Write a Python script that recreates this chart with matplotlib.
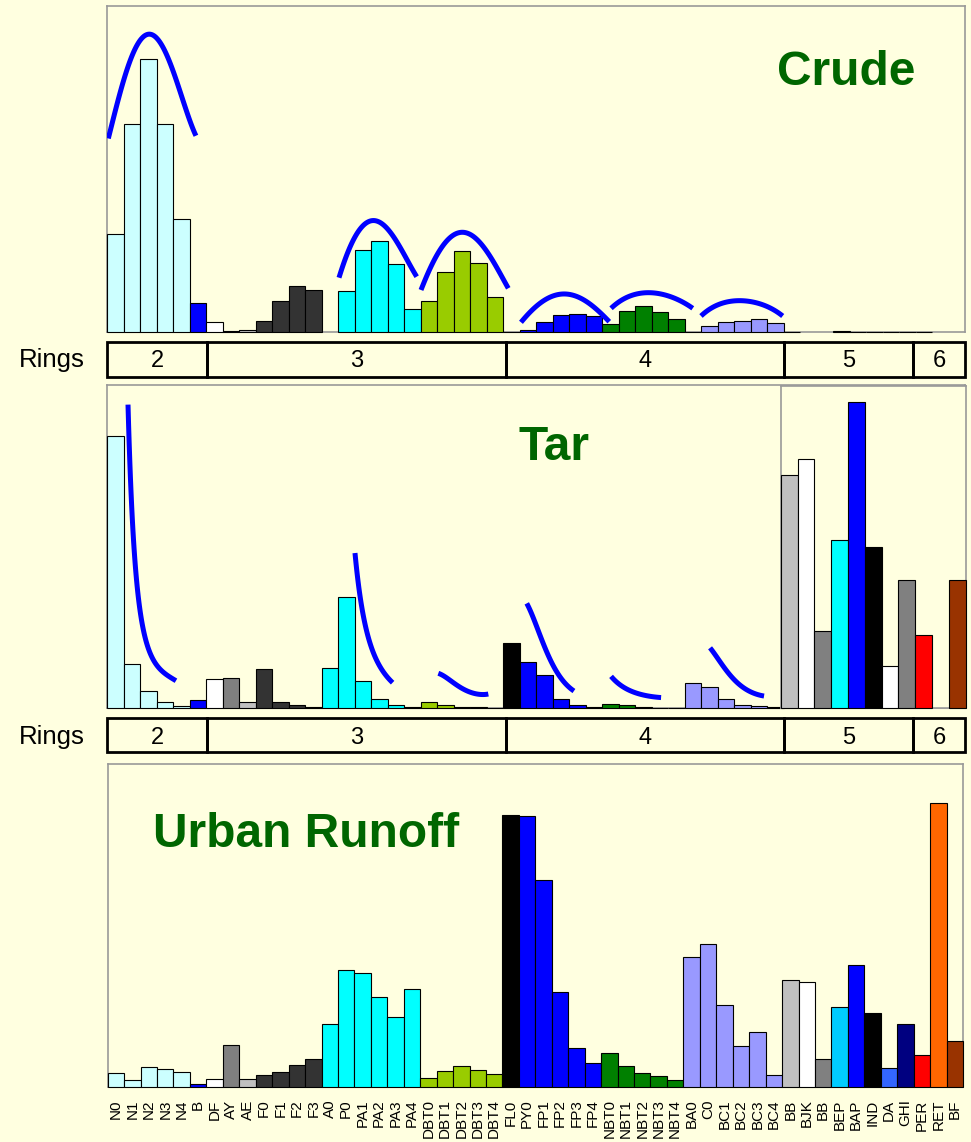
import numpy as np
import matplotlib.pyplot as plt

nan = np.nan

# compound names along the x axis
labels = ['N0', 'N1', 'N2', 'N3', 'N4', 'B', 'DF', 'AY', 'AE', 'F0', 'F1', 'F2', 'F3',
          'A0', 'P0', 'PA1', 'PA2', 'PA3', 'PA4', 'DBT0', 'DBT1', 'DBT2', 'DBT3', 'DBT4',
          'FL0', 'PY0', 'FP1', 'FP2', 'FP3', 'FP4', 'NBT0', 'NBT1', 'NBT2', 'NBT3', 'NBT4',
          'BA0', 'C0', 'BC1', 'BC2', 'BC3', 'BC4', 'BB', 'BJK', 'BB', 'BEP', 'BAP', 'IND',
          'DA', 'GHI', 'PER', 'RET', 'BF']

# relative abundances (arbitrary units); nan = no bar
crude = [98, 208, 273, 208, 113, 29, 10, 1, 2, 11, 31, 46, 42,
         nan, 41, 82, 91, 68, 23, 31, 60, 81, 69, 35,
         0, 2, 10, 17, 18, 16, 8, 21, 26, 20, 13,
         0, 6, 10, 11, 13, 9, 0, nan, nan, 1.5, 0, 0,
         0, 0, 0, nan, nan]
tar = [272, 44, 17, 6, 2, 8, 29, 30, 6, 39, 6, 3, 1.5,
       40, 111, 27, 9, 3.3, 1, 6.3, 3, 1.5, 1, 0.5,
       65, 46.5, 33, 8.7, 2.7, 1, 4.3, 2.7, 1, 0.5, 0.3,
       24.7, 21, 8.7, 3, 2.3, 1]
# tar 5-6 ring compounds are on their own scale (inset)
tar_heavy = [233, 249.6, 77, 168.6, 306, 161, 42, 128.6, 73, nan, 128.6]
urban = [14, 7, 20, 18, 15, 3, 8, 42, 8, 12, 15, 22, 28,
         63, 117, 114, 90, 70, 98, 9, 16, 21, 17, 13,
         272, 271, 207, 95, 39, 24, 34, 21, 14, 11, 7,
         130, 143, 82, 41, 55, 12, 107, 105, 28, 80, 122, 74,
         19, 63, 32, 284, 46]

light_colors = (['#ccffff'] * 5 + ['#0000ff', '#ffffff', '#808080', '#c0c0c0'] + ['#333333'] * 4
                + ['#00ffff'] * 6 + ['#99cc00'] * 5 + ['#000000'] + ['#0000ff'] * 5
                + ['#008000'] * 5 + ['#9999ff'] * 6)
tar_heavy_colors = ['#c0c0c0', '#ffffff', '#808080', '#00ffff', '#0000ff', '#000000',
                    '#ffffff', '#808080', '#ff0000', '#ff6600', '#993300']
urban_heavy_colors = ['#c0c0c0', '#ffffff', '#808080', '#00ccff', '#0000ff', '#000000',
                      '#3366ff', '#000080', '#ff0000', '#ff6600', '#993300']

# ring bands
ring_labels = ['2', '3', '4', '5', '6']
ring_edges = [-0.5, 5.58, 23.68, 40.55, 48.37, 51.5]

# homolog trend curves: (bar position, height) points
crude_arcs = [
    [(-0.42, 193.7), (0.29, 238.7), (1.09, 278.7), (2.05, 299.7), (2.91, 282), (3.92, 242), (4.89, 196)],
    [(13.56, 54.3), (14.43, 92), (15.76, 111.3), (17.06, 90.3), (18.27, 55.3)],
    [(18.53, 42), (19.68, 82), (20.99, 99.7), (22.31, 85.3), (23.82, 43.7)],
    [(24.59, 9.7), (25.74, 28.7), (27.12, 38), (28.57, 30.3), (29.94, 10.3)],
    [(30.05, 23.7), (31.2, 36), (32.41, 39.3), (33.82, 34.3), (35.0, 23.7)],
    [(35.5, 16), (36.65, 28), (37.97, 31.3), (39.28, 27), (40.45, 16)],
]
tar_curves = [
    [(0.773, 300.3), (0.894, 246.3), (1.058, 180), (1.30, 126.3), (1.603, 86.3),
     (2.003, 60), (2.512, 43), (3.118, 33), (3.68, 27.3)],
    [(14.53, 153), (14.73, 128), (15.03, 91.3), (15.44, 64.7), (15.94, 44.7), (16.81, 25.3)],
    [(19.58, 34.7), (20.49, 25.3), (21.30, 17.3), (21.91, 14), (22.61, 14)],
    [(24.94, 104.7), (25.54, 81.3), (26.15, 56.3), (26.75, 36.3), (27.80, 17)],
    [(30.05, 30.7), (31.0, 20.7), (32.0, 12), (33.08, 10.7)],
    [(36.05, 60.3), (36.85, 41.3), (37.66, 26.3), (38.47, 16.3), (39.32, 12)],
]

W, H = 971, 1142
BG = '#ffffe0'
plt.rcParams['font.family'] = ['Liberation Sans', 'DejaVu Sans']

fig = plt.figure(figsize=(W / 100, H / 100), dpi=100, facecolor=BG)


def add_ax(left, top, right, bottom):
    return fig.add_axes([left / W, 1 - bottom / H, (right - left) / W, (bottom - top) / H])


def style(ax, top, n=52):
    ax.set_facecolor(BG)
    ax.set_xlim(-0.5, n - 0.5)
    ax.set_ylim(0, top)
    for s in ax.spines.values():
        s.set_color('#999999')
        s.set_linewidth(1.2)
    ax.set_xticks([])
    ax.set_yticks([])


def draw_bars(ax, values, colors):
    v = np.array(values, dtype=float)
    x = np.arange(len(v))
    keep = ~np.isnan(v)
    ax.bar(x[keep], v[keep], width=1.0, color=np.array(colors[:len(v)])[keep],
           edgecolor='black', linewidth=0.8, zorder=3, clip_on=False)


def smooth_curve(ax, pts, log=False):
    # smooth line through the traced points
    px, py = np.array(pts).T
    deg = min(4, len(px) - 1) if not log else min(3, len(px) - 2)
    yy = np.log(py) if log else py
    coef = np.polyfit(px, yy, deg)
    xs = np.linspace(px[0], px[-1], 80)
    ys = np.polyval(coef, xs)
    ax.plot(xs, np.exp(ys) if log else ys, color='#0000ff', lw=3.6,
            solid_capstyle='butt', zorder=4)


def ring_band(top, bottom, baseline):
    ax = add_ax(107, top, 965, bottom)
    ax.set_xlim(-0.5, 51.5)
    ax.set_ylim(0, 1)
    ax.axis('off')
    edges = np.array(ring_edges)
    ax.barh(0.5, np.diff(edges), left=edges[:-1], height=1.0, color='none',
            edgecolor='black', linewidth=2, clip_on=False)
    centers = (edges[:-1] + edges[1:]) / 2
    for c, lab in zip(centers, ring_labels):
        ax.text(c, (bottom - baseline) / (bottom - top), lab, ha='center', va='baseline', fontsize=17)
    fig.text(52 / W, 1 - baseline / H, 'Rings', ha='center', va='baseline', fontsize=18.5)


title_kw = dict(fontsize=34.5, fontweight='bold', color='#006600', ha='center', va='baseline')

# ---- Crude ----
ax1 = add_ax(107, 6, 965, 332)
style(ax1, 326)
draw_bars(ax1, crude, light_colors + tar_heavy_colors)
for pts in crude_arcs:
    smooth_curve(ax1, pts)
fig.text(846.5 / W, 1 - 85 / H, 'Crude', **title_kw)

ring_band(342.3, 376.7, 367)

# ---- Tar ----
ax2 = add_ax(107, 385, 965, 708)
style(ax2, 323)
draw_bars(ax2, tar, light_colors)
for pts in tar_curves:
    smooth_curve(ax2, pts, log=True)
fig.text(553.5 / W, 1 - 460 / H, 'Tar', **title_kw)

ax2b = add_ax(780.7, 385.7, 965.7, 708.3)
style(ax2b, 322.6, n=len(tar_heavy))
draw_bars(ax2b, tar_heavy, tar_heavy_colors)

ring_band(718.3, 752.3, 744)

# ---- Urban Runoff ----
ax3 = add_ax(107.7, 764, 963, 1087)
style(ax3, 323)
draw_bars(ax3, urban, light_colors + urban_heavy_colors)
ax3.set_xticks(np.arange(len(labels)))
ax3.set_xticklabels(labels, rotation=90, fontsize=11)
ax3.tick_params(axis='x', length=0, pad=9)
fig.text(306.5 / W, 1 - 847 / H, 'Urban Runoff', **title_kw)

fig.savefig('out.png', dpi=100, facecolor=BG)
